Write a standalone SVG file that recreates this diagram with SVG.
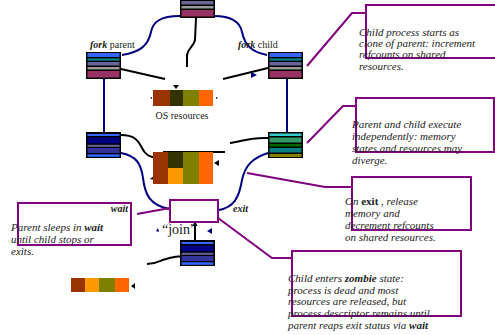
<svg xmlns="http://www.w3.org/2000/svg" width="495" height="335" viewBox="0 0 495 335">
<style>
.t{font-family:"Liberation Serif","Times New Roman",serif;fill:#222}
.it{font-style:italic;font-size:11px}
.b{font-weight:bold}
.nv{fill:none;stroke:#000080;stroke-width:2}
.bk{fill:none;stroke:#000;stroke-width:2}
.pu{fill:none;stroke:#800080;stroke-width:2}
.box{fill:none;stroke:#800080;stroke-width:2}
</style>
<defs>
<g id="blk1">
<rect x="0" y="0" width="35" height="27" fill="#000"/>
<rect x="1.5" y="1" width="32" height="4" fill="#3366ff"/>
<rect x="1.5" y="6.3" width="32" height="2.4" fill="#008080"/>
<rect x="1.5" y="10" width="32" height="3.5" fill="#666699"/>
<rect x="1.5" y="15" width="32" height="2.5" fill="#999999"/>
<rect x="1.5" y="19" width="32" height="6.5" fill="#993366"/>
</g>
<g id="blk2">
<rect x="0" y="0" width="35" height="26" fill="#000"/>
<rect x="1.5" y="2" width="32" height="2" fill="#3366ff"/>
<rect x="1.5" y="5.5" width="32" height="6" fill="#000080"/>
<rect x="1.5" y="12.8" width="32" height="2" fill="#666699"/>
<rect x="1.5" y="16" width="32" height="5" fill="#333399"/>
<rect x="1.5" y="22.3" width="32" height="2.5" fill="#3366ff"/>
</g>
</defs>

<g id="connectors">
<path class="nv" d="M180,16 C160,16 153,22 151,32 C148,46 140,52 122,55"/>
<path class="nv" d="M214,16 C232,16 240,22 242,32 C245,46 252,52 267,55"/>
<path class="bk" d="M196,18 L195,40 C194,46 188,48 187,55 L187,67"/>
<path class="bk" d="M121,69 L165,79"/>
<path class="bk" d="M268,68 L223,79"/>
<path class="nv" d="M104,79 L104,133"/>
<path class="nv" d="M287,79 L287,133"/>
<path class="bk" d="M121,135 C134,135 138,140 142,148 C145,155 150,157 157,158"/>
<path class="bk" d="M163,152 L225,152"/>
<path class="bk" d="M230,143 C240,142 250,137 268,138"/>
<path class="nv" d="M121,153 C136,156 141,163 143,178 C145,195 150,205 169,209"/>
<path class="nv" d="M268,153 C252,158 245,166 242,180 C239,198 234,207 219,210"/>
<path class="bk" d="M195,240 L195,224"/>
<path class="bk" d="M147,264 C157,264 160,260 166,259 C172,257 178,256 187,256"/>
<polygon points="112,72 117,76 111,77" fill="#000080"/>
<polygon points="251,72 257,75 251,78" fill="#000080"/>
<polygon points="173,85 179,85 176,89" fill="#000"/>
<polygon points="150,98 152,97 152,99" fill="#000"/>
<polygon points="218,98 216,97 216,99" fill="#000"/>
<polygon points="219,160 219,166 214,163" fill="#000"/>
<polygon points="150,179 155,175 154,180" fill="#000"/>
<polygon points="92,146 97,146 94,150" fill="#000080"/>
<polygon points="285,144 291,144 288,148" fill="#000080"/>
<polygon points="192.5,226 197.5,226 195,221" fill="#000"/>
<polygon points="156,231 158,228 159,232" fill="#000080"/>
<polygon points="212,228 212,234 207,231" fill="#000080"/>
<polygon points="184,254 190,254 187,258" fill="#000"/>
<polygon points="131,286 135,283 135,289" fill="#000"/>
<path class="pu" d="M307,66 L352,13 L366,13"/>
<path class="pu" d="M307,143 L343,106 L356,106"/>
<path class="pu" d="M247,173 L325,187 L352,187"/>
<path class="pu" d="M218,218 L272,258 L292,258"/>
<path class="pu" d="M137,214 L170,208"/>
</g>

<g id="top-process"><use href="#blk1" x="180" y="-9"/></g>
<g id="fork-parent"><use href="#blk1" x="86" y="52"/>
<text class="t" x="90" y="48" font-size="10"><tspan class="b" font-style="italic">fork</tspan> parent</text></g>
<g id="fork-child"><use href="#blk1" x="268" y="52"/>
<text class="t" x="238" y="48" font-size="10"><tspan class="b" font-style="italic">fork</tspan> child</text></g>

<g id="os-resources">
<rect x="153" y="90" width="17" height="16" fill="#993300"/>
<rect x="170" y="90" width="13" height="16" fill="#333300"/>
<rect x="183" y="90" width="16" height="16" fill="#808000"/>
<rect x="199" y="90" width="14" height="16" fill="#ff6600"/>
<text class="t" x="182" y="119" font-size="10" text-anchor="middle" fill="#333">OS resources</text>
</g>

<g id="parent-run"><use href="#blk2" x="86" y="132"/></g>
<g id="child-run">
<rect x="268" y="132" width="35" height="26" fill="#000"/>
<rect x="269.5" y="133.5" width="32" height="2.5" fill="#33cccc"/>
<rect x="269.5" y="137.5" width="32" height="5" fill="#339966"/>
<rect x="269.5" y="144" width="32" height="2.5" fill="#006600"/>
<rect x="269.5" y="148" width="32" height="4.5" fill="#008080"/>
<rect x="269.5" y="154" width="32" height="3" fill="#808000"/>
</g>

<g id="shared-resources">
<rect x="153" y="152" width="15" height="32" fill="#993300"/>
<rect x="168" y="152" width="15" height="16" fill="#333300"/>
<rect x="168" y="168" width="15" height="16" fill="#ff9900"/>
<rect x="183" y="152" width="16" height="32" fill="#808000"/>
<rect x="199" y="152" width="14" height="32" fill="#ff6600"/>
</g>

<g id="join">
<rect x="170" y="200" width="48" height="22" fill="#fff" stroke="#800080" stroke-width="2"/>
<text class="t b" x="128" y="212" font-size="10" font-style="italic" text-anchor="end">wait</text>
<text class="t b" x="233" y="212" font-size="10" font-style="italic">exit</text>
<text class="t" x="162" y="234" font-size="14">“join”</text>
</g>

<g id="zombie-block"><use href="#blk2" x="180" y="240"/></g>

<g id="remaining-resources">
<rect x="71" y="278" width="14" height="14" fill="#993300"/>
<rect x="85" y="278" width="14" height="14" fill="#ff9900"/>
<rect x="99" y="278" width="16" height="14" fill="#808000"/>
<rect x="115" y="278" width="14" height="14" fill="#ff6600"/>
</g>

<g id="note-clone">
<rect class="box" x="366" y="5" width="140" height="53"/>
<text class="t it" x="359" y="36">Child process starts as</text>
<text class="t it" x="359" y="47">clone of parent: increment</text>
<text class="t it" x="359" y="58">refcounts on shared</text>
<text class="t it" x="359" y="70">resources.</text>
</g>

<g id="note-independent">
<rect class="box" x="356" y="98" width="138" height="54"/>
<text class="t it" x="352" y="128">Parent and child execute</text>
<text class="t it" x="352" y="140">independently: memory</text>
<text class="t it" x="352" y="152">states and resources may</text>
<text class="t it" x="352" y="164">diverge.</text>
</g>

<g id="note-exit">
<rect class="box" x="352" y="177" width="119" height="53"/>
<text class="t it" x="345" y="205">On <tspan class="b" font-style="normal">exit</tspan> , release</text>
<text class="t it" x="345" y="217">memory and</text>
<text class="t it" x="345" y="229">decrement  refcounts</text>
<text class="t it" x="345" y="241">on shared resources.</text>
</g>

<g id="note-zombie">
<rect class="box" x="292" y="251" width="169" height="65"/>
<text class="t it" x="288" y="282">Child enters <tspan class="b">zombie</tspan> state:</text>
<text class="t it" x="288" y="293.5">process is dead and most</text>
<text class="t it" x="288" y="305">resources are released, but</text>
<text class="t it" x="288" y="316.5">process descriptor remains until</text>
<text class="t it" x="288" y="329">parent reaps exit status via <tspan class="b">wait</tspan></text>
</g>

<g id="note-wait">
<rect class="box" x="18" y="203" width="113" height="42"/>
<text class="t it" x="11" y="231">Parent sleeps in  <tspan class="b">wait</tspan></text>
<text class="t it" x="11" y="243">until child stops or</text>
<text class="t it" x="11" y="255">exits.</text>
</g>
</svg>
